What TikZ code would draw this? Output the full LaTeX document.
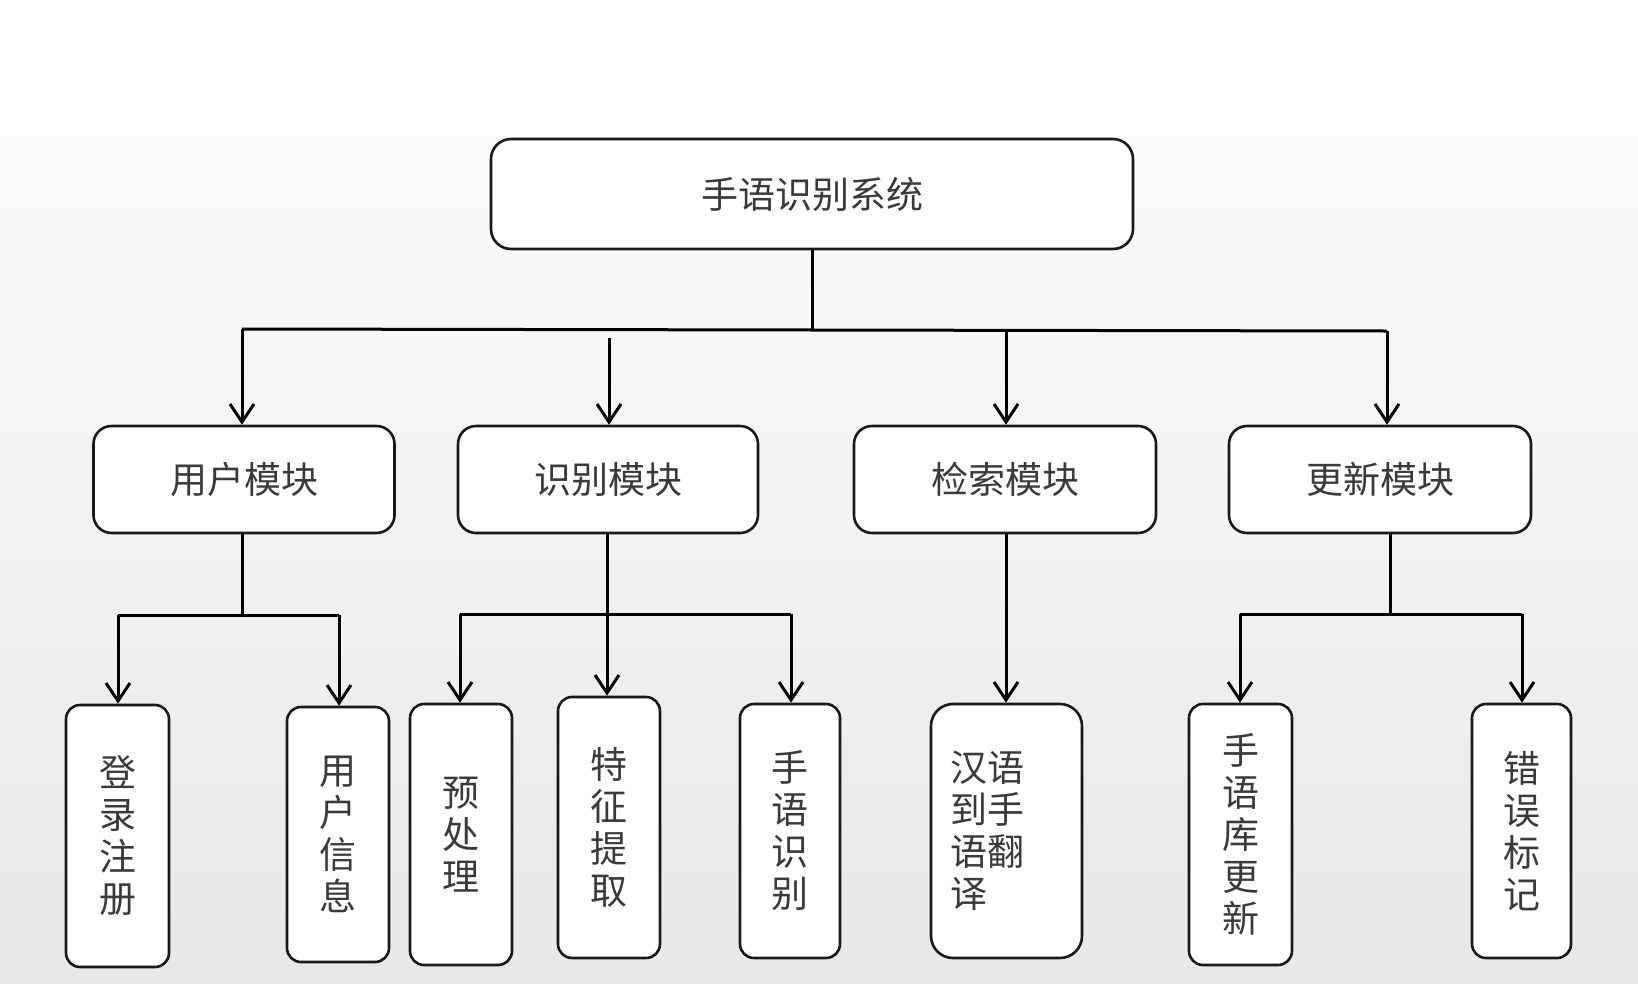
\documentclass[tikz,border=0pt]{standalone}
\usepackage{fontspec}
\newfontfamily\cjk{Noto Sans CJK SC}
\usetikzlibrary{arrows.meta}
\definecolor{txt}{HTML}{3A3A3A}
\definecolor{bgtop}{HTML}{FBFBFB}
\definecolor{bgbot}{HTML}{E8E8E8}
\begin{document}
\begin{tikzpicture}[x=1pt,y=-1pt,
  box/.style={draw=black!90,line width=2.6pt,rounded corners=18pt,fill=white,inner sep=0pt,
    text=txt,font=\cjk\fontsize{37}{42}\selectfont},
  leaf/.style={box,rounded corners=14pt,align=center},
  conn/.style={draw=black,line width=3pt},
  arr/.style={conn,-{Straight Barb[length=18pt,width=24pt,line width=3pt]}}]
\useasboundingbox (0,0) rectangle (1638,983);
\fill[white] (0,0) rectangle (1638,983);
\shade[top color=bgtop,bottom color=bgbot] (0,136) rectangle (1638,983);
% top
\node[box,minimum width=642pt,minimum height=110pt,rounded corners=20pt] (top) at (812,194) {手语识别系统};
% modules
\node[box,minimum width=301pt,minimum height=107pt] (m1) at (244,479.5) {用户模块};
\node[box,minimum width=300pt,minimum height=107pt] (m2) at (608,479.5) {识别模块};
\node[box,minimum width=302pt,minimum height=107pt] (m3) at (1005,479.5) {检索模块};
\node[box,minimum width=302pt,minimum height=107pt] (m4) at (1380,479.5) {更新模块};
% leaves
\node[leaf,minimum width=103pt,minimum height=262pt] (l1) at (117.5,836) {登\\录\\注\\册};
\node[leaf,minimum width=102pt,minimum height=255pt] (l2) at (338,834.5) {用\\户\\信\\息};
\node[leaf,minimum width=102pt,minimum height=261pt] (l3) at (461,834.5) {预\\处\\理};
\node[leaf,minimum width=102pt,minimum height=261pt] (l4) at (609,827.5) {特\\征\\提\\取};
\node[leaf,minimum width=100pt,minimum height=254pt] (l5) at (790,831) {手\\语\\识\\别};
\node[leaf,minimum width=151pt,minimum height=254pt,align=left,text width=112pt,rounded corners=22pt] (l6) at (1006.5,831) {汉语\\到手\\语翻\\译};
\node[leaf,minimum width=103pt,minimum height=261pt] (l7) at (1240.5,834.5) {手\\语\\库\\更\\新};
\node[leaf,minimum width=99pt,minimum height=254pt] (l8) at (1521.5,831) {错\\误\\标\\记};
% top level connectors
\coordinate (busL) at (242,329);
\coordinate (busR) at (1387,331);
\coordinate (busC) at (812,330);
\coordinate (m2s) at (609,338);
\draw[conn] (top.south) -- (busC);
\draw[conn] (busL) -- (busR);
\draw[arr] (busL) -- (busL |- m1.north);
\draw[arr] (m2s) -- (m2s |- m2.north);
\draw[arr] (1006,330) coordinate (b3) -- (b3 |- m3.north);
\draw[arr] (busR) -- (busR |- m4.north);
% user module
\coordinate (u1) at (118,615);
\coordinate (u2) at (339,615);
\draw[conn] (m1.south -| busL) -- (busL |- u1);
\draw[conn] (u1) -- (u2);
\draw[arr] (u1) -- (u1 |- l1.north);
\draw[arr] (u2) -- (u2 |- l2.north);
% recognition module
\coordinate (r1) at (460,614);
\coordinate (r3) at (791,614);
\draw[conn] (r1) -- (r3);
\draw[arr] (607,533) coordinate (r2) -- (r2 |- l4.north);
\draw[arr] (r1) -- (r1 |- l3.north);
\draw[arr] (r3) -- (r3 |- l5.north);
% search module
\draw[arr] (m3.south -| b3) -- (b3 |- l6.north);
% update module
\coordinate (p1) at (1240,614);
\coordinate (p2) at (1522,614);
\draw[conn] (1390,533) coordinate (p0) -- (p0 |- p1);
\draw[conn] (p1) -- (p2);
\draw[arr] (p1) -- (p1 |- l7.north);
\draw[arr] (p2) -- (p2 |- l8.north);
\end{tikzpicture}
\end{document}
